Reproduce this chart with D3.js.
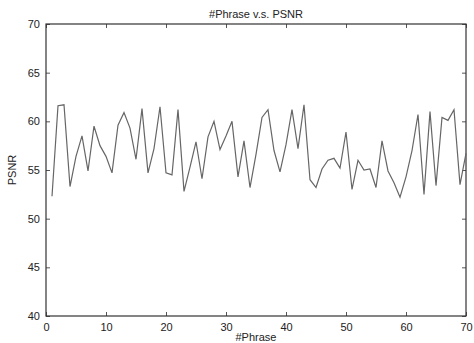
<!DOCTYPE html>
<html>
<head>
<meta charset="utf-8">
<script src="https://cdn.jsdelivr.net/npm/d3@7"></script>
<style>
  body { margin: 0; background: #fff; }
  text { font-family: "Liberation Sans", Arial, sans-serif; fill: #222; }
</style>
</head>
<body>
<div id="chart"></div>
<script>
// #Phrase index and PSNR values
const phrases = d3.range(1, 71);
const psnr = [
  52.3, 61.6, 61.7, 53.3, 56.4, 58.5, 54.9, 59.5, 57.5, 56.4,
  54.7, 59.6, 60.9, 59.3, 56.1, 61.3, 54.7, 57.2, 61.5, 54.7,
  54.5, 61.2, 52.8, 55.3, 57.9, 54.1, 58.4, 60.0, 57.1, 58.5,
  60.0, 54.3, 58.0, 53.2, 56.6, 60.4, 61.2, 57.0, 54.8, 57.6,
  61.2, 57.2, 61.7, 54.0, 53.2, 55.1, 56.0, 56.2, 55.2, 58.9,
  53.0, 56.0, 55.0, 55.1, 53.2, 58.0, 54.9, 53.7, 52.2, 54.3,
  57.0, 60.7, 52.5, 61.0, 53.4, 60.4, 60.1, 61.2, 53.5, 56.7
];
const xTicks = [0, 10, 20, 30, 40, 50, 60, 70];
const yTicks = [40, 45, 50, 55, 60, 65, 70];

const width = 474, height = 343;
const margin = {top: 24, right: 8, bottom: 27, left: 46};
const innerW = width - margin.left - margin.right;
const innerH = height - margin.top - margin.bottom;

const svg = d3.select("#chart").append("svg")
  .attr("width", width)
  .attr("height", height);

const bounds = svg.append("g")
  .attr("transform", `translate(${margin.left},${margin.top})`);

const xScale = d3.scaleLinear().domain([0, 70]).range([0, innerW]);
const yScale = d3.scaleLinear().domain([40, 70]).range([innerH, 0]);

// matlab style box: inward ticks on all four sides
const styleAxis = (g, showLabels) => {
  g.select(".domain").remove();
  g.selectAll(".tick line").attr("stroke", "#555");
  g.selectAll(".tick text").attr("font-size", 11).attr("fill", "#222");
  if (!showLabels) g.selectAll(".tick text").remove();
};

bounds.append("g")
  .attr("transform", `translate(0,${innerH})`)
  .call(d3.axisBottom(xScale).tickValues(xTicks).tickSize(-4).tickPadding(7))
  .call(g => styleAxis(g, true));

bounds.append("g")
  .call(d3.axisTop(xScale).tickValues(xTicks).tickSize(-4))
  .call(g => styleAxis(g, false));

bounds.append("g")
  .call(d3.axisLeft(yScale).tickValues(yTicks).tickSize(-4).tickPadding(6))
  .call(g => styleAxis(g, true));

bounds.append("g")
  .attr("transform", `translate(${innerW},0)`)
  .call(d3.axisRight(yScale).tickValues(yTicks).tickSize(-4))
  .call(g => styleAxis(g, false));

bounds.append("rect")
  .attr("width", innerW)
  .attr("height", innerH)
  .attr("fill", "none")
  .attr("stroke", "#333")
  .attr("stroke-width", 1.2);

const line = d3.line()
  .x((d, i) => xScale(phrases[i]))
  .y(d => yScale(d));

bounds.append("path")
  .datum(psnr)
  .attr("d", line)
  .attr("fill", "none")
  .attr("stroke", "#666")
  .attr("stroke-width", 1.2);

svg.append("text")
  .attr("x", margin.left + innerW / 2)
  .attr("y", 18)
  .attr("text-anchor", "middle")
  .attr("font-size", 11)
  .text("#Phrase v.s. PSNR");

svg.append("text")
  .attr("x", margin.left + innerW / 2)
  .attr("y", 341)
  .attr("text-anchor", "middle")
  .attr("font-size", 11)
  .text("#Phrase");

svg.append("text")
  .attr("transform", `translate(16,${margin.top + innerH / 2}) rotate(-90)`)
  .attr("text-anchor", "middle")
  .attr("font-size", 11)
  .text("PSNR");
</script>
</body>
</html>
